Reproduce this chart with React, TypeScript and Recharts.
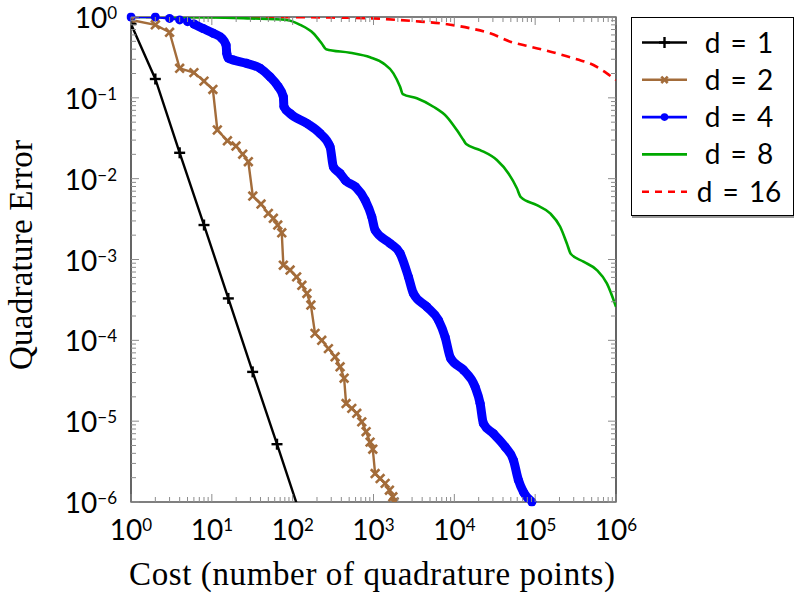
import React from 'react';
import { LineChart, Line, XAxis, YAxis, ReferenceArea, Label } from 'recharts';

// d = 1
const d1Cost = [1, 2, 4, 8, 16, 32, 64, 128];
const d1Err = [0.82, 0.171, 0.0209, 0.00267, 3.3e-4, 4.07e-5, 5.19e-6, 6.4e-7];

// d = 2
const d2Cost = [
  1, 2, 3, 4, 6, 8, 10.3, 11.7, 15.6, 19.9, 24.1, 28.3, 32.1, 40.6, 50, 57.7, 65.4, 73.3,
  76.7, 92.9, 112, 130, 150, 168, 189, 229, 277, 335, 386, 433, 458, 539, 621, 716, 810,
  907, 980, 1047, 1208, 1393, 1574, 1734, 1799,
];
const d2Err = [
  0.92, 0.8, 0.647, 0.232, 0.205, 0.161, 0.127, 0.04, 0.0294, 0.0253, 0.0201, 0.0162, 0.0061,
  0.00485, 0.00372, 0.00323, 0.00267, 0.00214, 0.00085, 0.00074, 0.00061, 0.00048, 0.00038,
  0.000273, 1.22e-4, 1.0e-4, 7.9e-5, 6.25e-5, 4.7e-5, 3.4e-5, 1.65e-5, 1.44e-5, 1.25e-5,
  9.8e-6, 7.4e-6, 5.5e-6, 4.5e-6, 2.25e-6, 1.95e-6, 1.7e-6, 1.4e-6, 1.16e-6, 1.0e-6,
];

// d = 4
const d4Cost = [
  1, 2, 3, 4, 5, 6, 7.8, 10.4, 13.3, 15, 15.3, 16, 18.5, 27, 39.5, 52.5, 66.5, 76.7, 78, 93,
  150, 218, 290, 319, 386, 450, 600, 787, 952, 1047, 1604, 2133, 2704, 3118, 4560, 6350, 7690,
  9000, 12970, 18070, 20840, 22900, 30480, 42560, 53830, 62100, 71600, 91000,
];
const d4Err = [
  1.0, 1.0, 0.96, 0.92, 0.875, 0.82, 0.72, 0.63, 0.545, 0.45, 0.355, 0.31, 0.294, 0.267, 0.232,
  0.182, 0.137, 0.103, 0.078, 0.064, 0.0483, 0.0363, 0.0248, 0.014, 0.0116, 0.0095, 0.0079,
  0.00543, 0.00337, 0.00231, 0.00158, 0.00119, 0.00061, 0.00038, 0.00026, 0.000178, 0.00011,
  6.0e-5, 4.3e-5, 2.66e-5, 1.66e-5, 9.35e-6, 7.0e-6, 4.8e-6, 3.3e-6, 1.86e-6, 1.33e-6, 1.0e-6,
];

// d = 8
const d8Cost = [
  1, 10, 29.7, 84.5, 124, 180, 229, 259, 513, 907, 1327, 1763, 2133, 2306, 3436, 5510, 8070,
  10740, 12970, 14000, 20840, 33570, 46770, 59400, 66500, 105000, 153500, 203900, 246600,
  276600, 396000, 580000, 771000, 1000000,
];
const d8Err = [
  1.0, 0.99, 0.96, 0.92, 0.8, 0.63, 0.47, 0.4, 0.361, 0.317, 0.267, 0.201, 0.137, 0.111,
  0.0986, 0.0776, 0.0583, 0.0399, 0.03, 0.0268, 0.0226, 0.017, 0.0116, 0.0076, 0.0059, 0.0047,
  0.00372, 0.00254, 0.00158, 0.00117, 0.00094, 0.00074, 0.000506, 0.00026,
];

// d = 16
const d16Cost = [1, 100, 290, 1000, 3120, 6670, 15700, 27700, 49100, 86700, 185000, 328000, 526000, 771000, 1000000];
const d16Err = [1.0, 0.995, 0.985, 0.96, 0.89, 0.835, 0.725, 0.63, 0.495, 0.43, 0.355, 0.3, 0.255, 0.201, 0.166];

const xMajor = [1, 10, 100, 1000, 10000, 100000, 1000000];
const yMajor = [1e-6, 1e-5, 1e-4, 1e-3, 1e-2, 1e-1, 1];

const CHART_W = 794;
const CHART_H = 594;
const MARGIN = { top: 17, right: 178, bottom: 62, left: 71 };
const PLOT_LEFT = 131;
const PLOT_RIGHT = 616;
const PLOT_TOP = 17;
const PLOT_BOTTOM = 502;

const TICK_FONT = 'Lato, "Open Sans", sans-serif';
const TITLE_FONT = '"Liberation Serif", "DejaVu Serif", serif';
const TICK_COLOR = '#8c8c8c';

const withMinors = (majors: number[]) => {
  const out: number[] = [];
  majors.forEach((m, i) => {
    out.push(m);
    if (i < majors.length - 1) {
      for (let k = 2; k <= 9; k++) out.push(m * k);
    }
  });
  return out;
};
const xTicks = withMinors(xMajor);
const yTicks = withMinors(yMajor);

const rows = (xs: number[], ys: number[]) => xs.map((c, i) => ({ cost: c, err: ys[i] }));

const d1Data = rows(d1Cost, d1Err);
const d2Data = rows(d2Cost, d2Err);
const d4Data = rows(d4Cost, d4Err);
const d4Band = rows(d4Cost.slice(5), d4Err.slice(5));
const d8Data = rows(d8Cost, d8Err);
const d16Data = rows(d16Cost, d16Err);

const expOf = (v: number) => Math.round(Math.log10(v));
const isMajor = (v: number) => Math.abs(v / Math.pow(10, expOf(v)) - 1) < 1e-6;
const supText = (e: number) => (e < 0 ? `\u2212${-e}` : `${e}`);

const PowerLabel = ({ x, y, anchor, exp }: any) => (
  <text x={x} y={y} textAnchor={anchor} fontFamily={TICK_FONT} fontSize={28} fill="#000">
    10
    <tspan dy={-9} fontSize={17}>{supText(exp)}</tspan>
  </text>
);

const XTick = (props: any) => {
  const { x, payload } = props;
  const v = payload.value;
  const major = isMajor(v);
  const len = major ? 8 : 5;
  return (
    <g>
      <line x1={x} x2={x} y1={PLOT_BOTTOM} y2={PLOT_BOTTOM - len} stroke={TICK_COLOR} />
      <line x1={x} x2={x} y1={PLOT_TOP} y2={PLOT_TOP + len} stroke={TICK_COLOR} />
      {major && <PowerLabel x={x} y={540} anchor="middle" exp={expOf(v)} />}
    </g>
  );
};

const YTick = (props: any) => {
  const { y, payload } = props;
  const v = payload.value;
  const major = isMajor(v);
  const len = major ? 8 : 5;
  return (
    <g>
      <line x1={PLOT_LEFT} x2={PLOT_LEFT + len} y1={y} y2={y} stroke={TICK_COLOR} />
      <line x1={PLOT_RIGHT} x2={PLOT_RIGHT - len} y1={y} y2={y} stroke={TICK_COLOR} />
      {major && <PowerLabel x={117} y={y + 11} anchor="end" exp={expOf(v)} />}
    </g>
  );
};

const PlusMark = ({ cx, cy, color, size = 5.5 }: any) => (
  <g>
    <line x1={cx - size} x2={cx + size} y1={cy} y2={cy} stroke={color} strokeWidth={2.4} />
    <line x1={cx} x2={cx} y1={cy - size} y2={cy + size} stroke={color} strokeWidth={2.4} />
  </g>
);

const CrossMark = ({ cx, cy, color, size = 4.3 }: any) => (
  <g>
    <line x1={cx - size} x2={cx + size} y1={cy - size} y2={cy + size} stroke={color} strokeWidth={2.6} />
    <line x1={cx - size} x2={cx + size} y1={cy + size} y2={cy - size} stroke={color} strokeWidth={2.6} />
  </g>
);

const BLACK = '#000000';
const BROWN = '#a36c3a';
const BLUE = '#0000ff';
const GREEN = '#00a800';
const RED = '#ff0000';

const legendItems = [
  { name: 'd = 1', color: BLACK, mark: 'plus', dash: undefined },
  { name: 'd = 2', color: BROWN, mark: 'cross', dash: undefined },
  { name: 'd = 4', color: BLUE, mark: 'dot', dash: undefined },
  { name: 'd = 8', color: GREEN, mark: 'none', dash: undefined },
  { name: 'd = 16', color: RED, mark: 'none', dash: '7 6' },
];

const LegendBox = () => (
  <div
    style={{
      position: 'absolute',
      left: 631,
      top: 17,
      width: 161,
      height: 197,
      border: '1px solid #000',
      boxShadow: '1px 2px 0 #999',
      background: '#fff',
    }}
  >
    <svg width={161} height={197}>
      {legendItems.map((item, i) => {
        const cy = 24.5 + i * 37.3;
        return (
          <g key={item.name}>
            <line x1={10} x2={55} y1={cy} y2={cy} stroke={item.color} strokeWidth={2.6} strokeDasharray={item.dash} />
            {item.mark === 'plus' && <PlusMark cx={32.5} cy={cy} color={item.color} />}
            {item.mark === 'cross' && <CrossMark cx={32.5} cy={cy} color={item.color} size={3.2} />}
            {item.mark === 'dot' && <circle cx={32.5} cy={cy} r={3.8} fill={item.color} />}
            <text
              x={107}
              y={cy + 10}
              textAnchor="middle"
              fontFamily={TICK_FONT}
              fontSize={28}
              wordSpacing={3}
              fill="#000"
            >
              {item.name}
            </text>
          </g>
        );
      })}
    </svg>
  </div>
);

const App = () => {
  return (
    <div style={{ position: 'relative', width: CHART_W, height: CHART_H, background: '#fff' }}>
      <style>{'body{margin:0}'}</style>
      <LineChart width={CHART_W} height={CHART_H} margin={MARGIN}>
        <XAxis
          dataKey="cost"
          type="number"
          scale="log"
          domain={[1, 1000000]}
          allowDataOverflow
          ticks={xTicks}
          interval={0}
          tick={<XTick />}
          tickLine={false}
          axisLine={false}
          height={30}
        >
          <Label
            content={() => (
              <text
                x={372}
                y={585}
                textAnchor="middle"
                fontFamily={TITLE_FONT}
                fontSize={33}
                textLength={486}
                lengthAdjust="spacing"
                fill="#000"
              >
                Cost (number of quadrature points)
              </text>
            )}
          />
        </XAxis>
        <YAxis
          dataKey="err"
          type="number"
          scale="log"
          domain={[1e-6, 1]}
          allowDataOverflow
          ticks={yTicks}
          interval={0}
          tick={<YTick />}
          tickLine={false}
          axisLine={false}
          width={60}
        >
          <Label
            content={() => (
              <text
                x={32}
                y={255}
                transform="rotate(-90 32 255)"
                textAnchor="middle"
                fontFamily={TITLE_FONT}
                fontSize={33}
                textLength={230}
                lengthAdjust="spacing"
                fill="#000"
              >
                Quadrature Error
              </text>
            )}
          />
        </YAxis>
        <ReferenceArea
          x1={1}
          x2={1000000}
          y1={1e-6}
          y2={1}
          fill="#fff"
          fillOpacity={0}
          stroke="#000"
          strokeWidth={1.2}
          ifOverflow="visible"
        />
        <Line
          data={d16Data}
          dataKey="err"
          type="monotone"
          stroke={RED}
          strokeWidth={2.6}
          strokeDasharray="9 6"
          dot={false}
          isAnimationActive={false}
        />
        <Line
          data={d8Data}
          dataKey="err"
          type="monotone"
          stroke={GREEN}
          strokeWidth={2.6}
          dot={false}
          isAnimationActive={false}
        />
        <Line
          data={d4Band}
          dataKey="err"
          type="monotone"
          stroke={BLUE}
          strokeWidth={9}
          strokeLinejoin="round"
          strokeLinecap="round"
          dot={false}
          legendType="none"
          isAnimationActive={false}
        />
        <Line
          data={d4Data}
          dataKey="err"
          type="linear"
          stroke={BLUE}
          strokeWidth={2.4}
          dot={{ r: 4.5, fill: BLUE, stroke: BLUE, strokeWidth: 0, clipDot: false }}
          isAnimationActive={false}
        />
        <Line
          data={d2Data}
          dataKey="err"
          type="linear"
          stroke={BROWN}
          strokeWidth={2.4}
          dot={(p: any) => <CrossMark key={`c-${p.index}`} cx={p.cx} cy={p.cy} color={BROWN} />}
          isAnimationActive={false}
        />
        <Line
          data={d1Data}
          dataKey="err"
          type="linear"
          stroke={BLACK}
          strokeWidth={2.4}
          dot={(p: any) => <PlusMark key={`p-${p.index}`} cx={p.cx} cy={p.cy} color={BLACK} />}
          isAnimationActive={false}
        />
      </LineChart>
      <LegendBox />
    </div>
  );
};

export default App;
